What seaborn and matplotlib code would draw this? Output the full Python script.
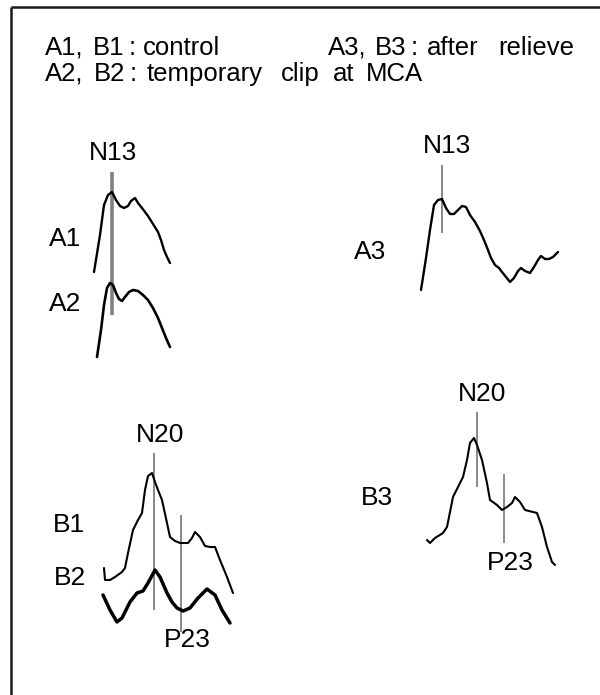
import matplotlib
matplotlib.use("Agg")
import matplotlib.pyplot as plt
import seaborn as sns
import pandas as pd

# Waveform traces (x = time position, y = amplitude position)
a1_x = [94, 100, 104, 108, 112, 116, 120, 124, 128, 131, 135, 138, 142, 148, 153, 158, 161, 164, 167, 170]
a1_y = [272, 235, 205, 195, 192, 200, 206, 208, 206, 201, 198, 203, 208, 216, 224, 232, 240, 250, 257, 263]

a2_x = [97, 101, 104, 107, 110, 113, 116, 119, 122, 125, 129, 133, 138, 143, 148, 153, 158, 162, 166, 170]
a2_y = [357, 330, 305, 288, 283, 285, 293, 299, 301, 297, 292, 290, 291, 295, 300, 308, 318, 328, 338, 347]

a3_x = [421, 426, 430, 434, 438, 442, 446, 450, 454, 458, 462, 466, 470, 475, 480, 484, 488, 491,
        495, 499, 502, 506, 510, 514, 518, 521, 525, 530, 534, 538, 541, 545, 549, 553, 558]
a3_y = [290, 258, 230, 205, 200, 199, 208, 214, 214, 210, 206, 207, 215, 222, 231, 240, 250, 258,
        265, 268, 272, 277, 282, 278, 271, 268, 271, 273, 267, 260, 256, 259, 259, 257, 252]

b1_x = [104, 105, 110, 115, 122, 125, 128, 133, 138, 142, 145, 148, 152, 155, 158, 162, 167, 170,
        175, 180, 188, 192, 195, 200, 205, 210, 215, 220, 227, 233]
b1_y = [568, 580, 580, 577, 572, 568, 553, 530, 520, 513, 490, 476, 473, 482, 490, 500, 523, 537,
        541, 543, 543, 538, 532, 537, 546, 547, 547, 560, 577, 593]

b2_x = [103, 110, 117, 122, 130, 137, 143, 148, 155, 160, 167, 172, 177, 183, 190, 198, 207, 215, 222, 230]
b2_y = [595, 610, 622, 618, 602, 593, 591, 583, 570, 577, 593, 602, 608, 611, 608, 598, 589, 595, 610, 623]

b3_x = [427, 430, 435, 443, 447, 450, 453, 458, 463, 467, 470, 474, 477, 482, 487, 490, 497, 502,
        507, 512, 515, 520, 525, 533, 537, 542, 547, 552, 555]
b3_y = [540, 543, 538, 533, 527, 512, 497, 487, 477, 460, 443, 438, 445, 460, 483, 500, 505, 510,
        507, 503, 497, 502, 510, 512, 513, 527, 547, 562, 565]

# Peak markers: x position, top, bottom
mark_names = ["N13", "N13", "N20", "P23", "N20", "P23"]
mark_x = [112, 442, 154, 181, 477, 504]
mark_top = [172, 165, 453, 515, 412, 474]
mark_bot = [315, 233, 610, 632, 487, 543]

# legend words and the centre of each one
line1_words = ["A1,", "B1", ":", "control", "A3,", "B3", ":", "after", "relieve"]
line1_x = [64, 109, 132, 181, 347, 391, 414, 453, 536]
line2_words = ["A2,", "B2", ":", "temporary", "clip", "at", "MCA"]
line2_x = [64, 110, 133, 205, 300, 344, 394]

traces = {
    "A1": (a1_x, a1_y), "A2": (a2_x, a2_y), "A3": (a3_x, a3_y),
    "B1": (b1_x, b1_y), "B2": (b2_x, b2_y), "B3": (b3_x, b3_y),
}
widths = {"A1": 1.7, "A2": 1.9, "A3": 1.7, "B1": 1.5, "B2": 2.5, "B3": 1.5}

sns.set_style("white")
plt.rcParams["font.family"] = ["Liberation Sans", "DejaVu Sans"]

fig = plt.figure(figsize=(6, 6.95), dpi=100)
ax = fig.add_axes([0, 0, 1, 1])

# frame (top and left edges only)
ax.plot([11, 600], [7, 7], color="#1a1a1a", lw=1.8, solid_capstyle="butt")
ax.plot([11, 11], [7, 695], color="#1a1a1a", lw=1.8, solid_capstyle="butt")

# marker lines
for i, name in enumerate(mark_names):
    lw = 2.6 if i == 0 else 1.3
    ax.vlines(mark_x[i], mark_top[i], mark_bot[i], color="#808080", lw=lw, zorder=1)

for name, (xs, ys) in traces.items():
    df = pd.DataFrame({"t": xs, "v": ys})
    sns.lineplot(data=df, x="t", y="v", ax=ax, color="black", lw=widths[name],
                 sort=False, zorder=2)
ax.set_xlabel("")
ax.set_ylabel("")
ax.set_xlim(0, 600)
ax.set_ylim(695, 0)
ax.axis("off")

# header
hdr = dict(fontsize=18.5, va="baseline", ha="center", color="black")
for w, x in zip(line1_words, line1_x):
    ax.text(x, 55, w, **hdr)
for w, x in zip(line2_words, line2_x):
    ax.text(x, 81, w, **hdr)

lab = dict(fontsize=19, va="center", ha="center", color="black")
ax.text(65, 239, "A1", **lab)
ax.text(65, 304, "A2", **lab)
ax.text(370, 252, "A3", **lab)
ax.text(69, 525, "B1", **lab)
ax.text(70, 578, "B2", **lab)
ax.text(377, 498, "B3", **lab)

ax.text(113, 153, "N13", **lab)
ax.text(447, 146, "N13", **lab)
ax.text(160, 435, "N20", **lab)
ax.text(187, 640, "P23", **lab)
ax.text(482, 394, "N20", **lab)
ax.text(510, 563, "P23", **lab)

fig.savefig("out.png", dpi=100)
